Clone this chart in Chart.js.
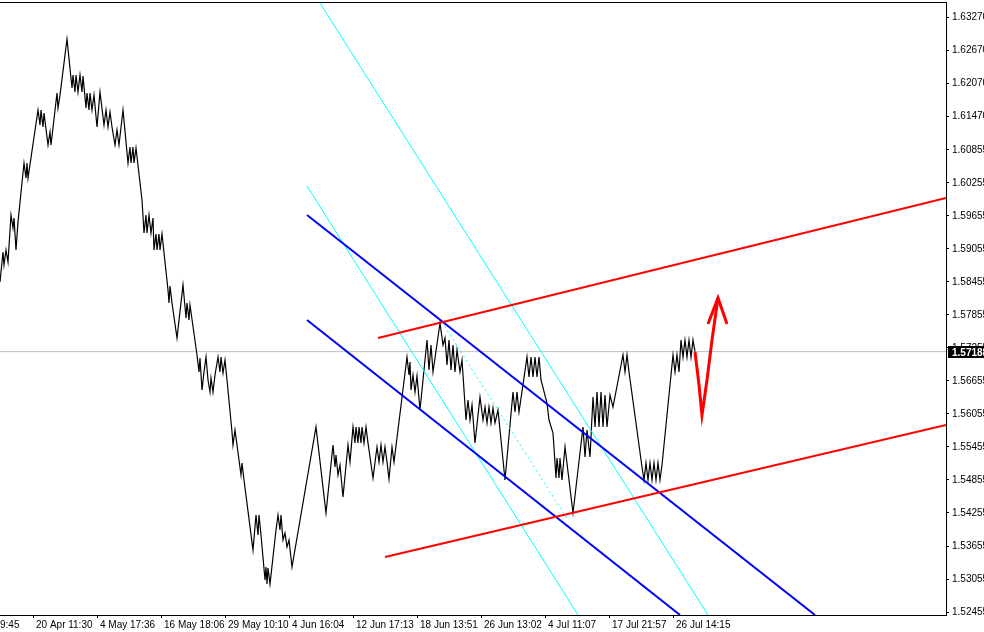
<!DOCTYPE html>
<html>
<head>
<meta charset="utf-8">
<script src="https://cdn.jsdelivr.net/npm/chart.js@4.4.0/dist/chart.umd.min.js"></script>
<style>
  html, body { margin: 0; padding: 0; background: #fff; overflow: hidden; }
  #wrap { width: 984px; height: 632px; }
</style>
</head>
<body>
<div id="wrap"><canvas id="chart"></canvas></div>
<script>
// Axe du temps : position de chaque repère (index de barre) et son libellé
const xTickPos = [-3, 33, 97, 161, 225, 289, 353, 417, 481, 545, 609, 673];
const xTickLabels = ['9:45', '20 Apr 11:30', '4 May 17:36', '16 May 18:06', '29 May 10:10', '4 Jun 16:04',
  '12 Jun 17:13', '18 Jun 13:51', '26 Jun 13:02', '4 Jul 11:07', '17 Jul 21:57', '26 Jul 14:15'];

// Échelle des prix
const yTickLabels = ['1.63270', '1.62670', '1.62070', '1.61470', '1.60855', '1.60255', '1.59655', '1.59055',
  '1.58455', '1.57855', '1.57255', '1.56655', '1.56055', '1.55455', '1.54855', '1.54255', '1.53655',
  '1.53055', '1.52455'];
const priceMin = 1.52401;
const priceMax = 1.63543;
const lastPrice = 1.57188;

// Tracé du prix [index de barre, prix]
const pricePath = [
  [0, 1.58453], [3, 1.58999], [4, 1.58762], [6, 1.59035], [8, 1.58817], [11, 1.59671], [13, 1.59435],
  [14, 1.59617], [16, 1.59035], [18, 1.59544], [24, 1.60616], [26, 1.60344], [27, 1.60616], [28, 1.60344],
  [38, 1.61580], [40, 1.61307], [41, 1.61580], [43, 1.61271], [44, 1.61525], [48, 1.60944], [50, 1.61180],
  [51, 1.60944], [57, 1.61889], [58, 1.61616], [60, 1.61852], [67, 1.62870], [72, 1.61979], [73, 1.62216],
  [75, 1.61907], [76, 1.62216], [78, 1.61907], [80, 1.62216], [82, 1.61907], [83, 1.62198], [86, 1.61616],
  [87, 1.61889], [89, 1.61580], [90, 1.61889], [92, 1.61580], [94, 1.61852], [97, 1.61271], [100, 1.61907],
  [104, 1.61307], [106, 1.61580], [108, 1.61271], [110, 1.61543], [112, 1.61271], [115, 1.60944],
  [117, 1.61216], [119, 1.60944], [123, 1.61580], [128, 1.60616], [130, 1.60907], [131, 1.60616],
  [133, 1.60907], [134, 1.60616], [136, 1.60889], [142, 1.59944], [144, 1.59344], [146, 1.59671],
  [147, 1.59344], [149, 1.59671], [151, 1.59344], [153, 1.59617], [154, 1.59035], [156, 1.59326],
  [157, 1.59035], [159, 1.59326], [160, 1.59035], [162, 1.59326], [168, 1.58308], [169, 1.58072],
  [170, 1.58381], [172, 1.58072], [177, 1.57436], [183, 1.58399], [186, 1.57799], [187, 1.58072],
  [189, 1.57763], [190, 1.58035], [197, 1.57127], [199, 1.56818], [200, 1.57072], [202, 1.56490],
  [204, 1.56818], [206, 1.57090], [208, 1.56672], [210, 1.56454], [211, 1.56708], [213, 1.56454],
  [215, 1.56763], [218, 1.57090], [220, 1.56818], [221, 1.57090], [223, 1.56799], [225, 1.57036],
  [227, 1.56672], [232, 1.55727], [233, 1.55491], [235, 1.55763], [237, 1.55491], [241, 1.54945],
  [242, 1.55164], [244, 1.54855], [253, 1.53582], [256, 1.54218], [258, 1.53855], [259, 1.54218],
  [261, 1.53855], [265, 1.53037], [266, 1.53273], [267, 1.52964], [268, 1.53255], [270, 1.52964],
  [276, 1.53946], [278, 1.54218], [280, 1.53946], [281, 1.54218], [283, 1.53764], [285, 1.53891],
  [287, 1.53637], [289, 1.53764], [292, 1.53273], [316, 1.55818], [326, 1.54255], [333, 1.55491],
  [335, 1.55091], [336, 1.55309], [338, 1.54945], [340, 1.55127], [343, 1.54546], [348, 1.55491],
  [350, 1.55182], [353, 1.55818], [355, 1.55527], [356, 1.55818], [358, 1.55527], [359, 1.55818],
  [361, 1.55527], [362, 1.55818], [364, 1.55527], [366, 1.55818], [368, 1.55527], [373, 1.54891],
  [377, 1.55454], [379, 1.55182], [381, 1.55491], [383, 1.55182], [385, 1.55454], [387, 1.55182],
  [389, 1.54873], [392, 1.55454], [394, 1.55182], [407, 1.57090], [409, 1.56763], [410, 1.56999],
  [411, 1.56490], [413, 1.56763], [415, 1.56454], [417, 1.56745], [420, 1.56127], [427, 1.57399],
  [429, 1.56854], [431, 1.57308], [433, 1.56818], [440, 1.57708], [443, 1.57308], [445, 1.57436],
  [447, 1.56945], [449, 1.57399], [451, 1.56854], [453, 1.57308], [455, 1.56818], [457, 1.57217],
  [460, 1.56818], [462, 1.57036], [466, 1.55945], [468, 1.56309], [470, 1.55945], [472, 1.56218],
  [475, 1.55527], [480, 1.56363], [483, 1.55945], [485, 1.56181], [487, 1.55891], [489, 1.56181],
  [491, 1.55891], [493, 1.56163], [495, 1.55891], [498, 1.56127], [505, 1.54855], [513, 1.56454],
  [515, 1.56090], [517, 1.56454], [519, 1.56090], [527, 1.57090], [529, 1.56727], [531, 1.57090],
  [533, 1.56727], [535, 1.57090], [537, 1.56727], [539, 1.57090], [541, 1.56672], [547, 1.56254],
  [549, 1.55945], [553, 1.55709], [556, 1.54891], [557, 1.55255], [559, 1.54891], [560, 1.55255],
  [562, 1.54855], [565, 1.55454], [573, 1.54255], [583, 1.55818], [585, 1.55273], [587, 1.55763],
  [590, 1.55273], [593, 1.56363], [595, 1.55818], [597, 1.56454], [599, 1.55818], [601, 1.56454],
  [603, 1.55818], [605, 1.56400], [607, 1.55818], [610, 1.56400], [613, 1.56181], [623, 1.57127],
  [625, 1.56818], [627, 1.57127], [629, 1.56818], [642, 1.55091], [644, 1.54855], [646, 1.55164],
  [648, 1.54855], [650, 1.55164], [652, 1.54855], [654, 1.55164], [656, 1.54855], [658, 1.55164],
  [660, 1.54855], [662, 1.55127], [673, 1.57127], [675, 1.56818], [677, 1.57127], [679, 1.56818],
  [681, 1.57399], [683, 1.57090], [685, 1.57399], [687, 1.57090], [689, 1.57399], [691, 1.57090],
  [693, 1.57399], [695, 1.57188]
];

// Lignes tracées sur le graphique
const aquaLine1 = [[320, 1.63524], [708, 1.52401]];
const aquaLine2 = [[307, 1.60198], [578, 1.52401]];
const aquaDotted = [[442, 1.57726], [568, 1.54128]];
const blueUpper = [[307, 1.59671], [815, 1.52401]];
const blueLower = [[307, 1.57763], [680, 1.52401]];
const redUpper = [[378, 1.57436], [946, 1.59980]];
const redLower = [[385, 1.53455], [946, 1.55854]];
const arrowPath = [[695, 1.57181], [699, 1.56581], [702, 1.56036], [707, 1.56672], [712, 1.57399], [718, 1.58163]];
const arrowHead = [[708, 1.57690], [718, 1.58163], [727, 1.57690]];

const toXY = arr => arr.map(p => ({ x: p[0], y: p[1] }));
const FONT = { family: '"Liberation Sans", Arial, sans-serif', size: 10 };

function lineSet(points, color, width, order, dash) {
  return {
    data: toXY(points),
    borderColor: color,
    borderWidth: width,
    borderDash: dash || [],
    pointRadius: 0,
    tension: 0,
    fill: false,
    order: order
  };
}

// pas de marge automatique autour des axes
function noPadding(scale) {
  scale.paddingLeft = 0;
  scale.paddingRight = 0;
  scale.paddingTop = 0;
  scale.paddingBottom = 0;
}

// Cadre du graphique et étiquette du dernier prix
const framePlugin = {
  id: 'frame',
  afterDraw(chart) {
    const { ctx, chartArea: a, scales } = chart;
    ctx.save();
    ctx.fillStyle = '#000';
    ctx.fillRect(0, a.top, a.right + 1, 1);
    ctx.fillRect(a.right, a.top, 1, a.bottom - a.top + 1);
    ctx.fillRect(0, a.bottom, a.right + 1, 1);
    const py = Math.round(scales.y.getPixelForValue(lastPrice));
    ctx.fillRect(a.right + 2, py - 6, 40, 12);
    ctx.fillStyle = '#fff';
    ctx.font = 'bold 10px "Liberation Sans", Arial, sans-serif';
    ctx.textBaseline = 'middle';
    ctx.fillText(lastPrice.toFixed(5), a.right + 6, py + 1);
    ctx.restore();
  }
};

new Chart(document.getElementById('chart'), {
  type: 'line',
  data: {
    datasets: [
      lineSet(redUpper, '#ff0000', 2, 1),
      lineSet(redLower, '#ff0000', 2, 1),
      lineSet(arrowPath, '#ff0000', 3, 1),
      lineSet(arrowHead, '#ff0000', 3, 1),
      lineSet(blueUpper, '#0000ff', 2, 2),
      lineSet(blueLower, '#0000ff', 2, 2),
      lineSet(aquaLine1, '#00ffff', 1, 3),
      lineSet(aquaLine2, '#00ffff', 1, 3),
      lineSet(aquaDotted, '#00ffff', 1, 3, [2, 3]),
      lineSet(pricePath, '#000000', 1.2, 5),
      lineSet([[0, lastPrice], [946, lastPrice]], '#c0c0c0', 1, 10)
    ]
  },
  options: {
    responsive: true,
    maintainAspectRatio: false,
    animation: false,
    events: [],
    layout: { padding: { top: 2, left: 0, right: 0, bottom: 0 } },
    plugins: { legend: { display: false }, tooltip: { enabled: false } },
    scales: {
      x: {
        type: 'linear',
        min: 0,
        max: 946,
        afterBuildTicks: scale => { scale.ticks = xTickPos.map(v => ({ value: v })); },
        afterFit: scale => { scale.height = 17; noPadding(scale); },
        border: { display: false },
        grid: { drawOnChartArea: false, drawTicks: true, tickLength: 3, tickColor: '#000' },
        ticks: {
          autoSkip: false,
          maxRotation: 0,
          minRotation: 0,
          align: 'start',
          labelOffset: 3,
          padding: 1,
          color: '#000',
          font: FONT,
          callback: (v, i) => xTickLabels[i]
        }
      },
      y: {
        type: 'linear',
        position: 'right',
        min: priceMin,
        max: priceMax,
        afterBuildTicks: scale => { scale.ticks = yTickLabels.map(v => ({ value: parseFloat(v) })); },
        afterFit: scale => { scale.width = 38; noPadding(scale); },
        border: { display: false },
        grid: { drawOnChartArea: false, drawTicks: true, tickLength: 3, tickColor: '#000' },
        ticks: {
          autoSkip: false,
          padding: 3,
          color: '#000',
          font: FONT,
          callback: (v, i) => yTickLabels[i]
        }
      }
    }
  },
  plugins: [framePlugin]
});
</script>
</body>
</html>
